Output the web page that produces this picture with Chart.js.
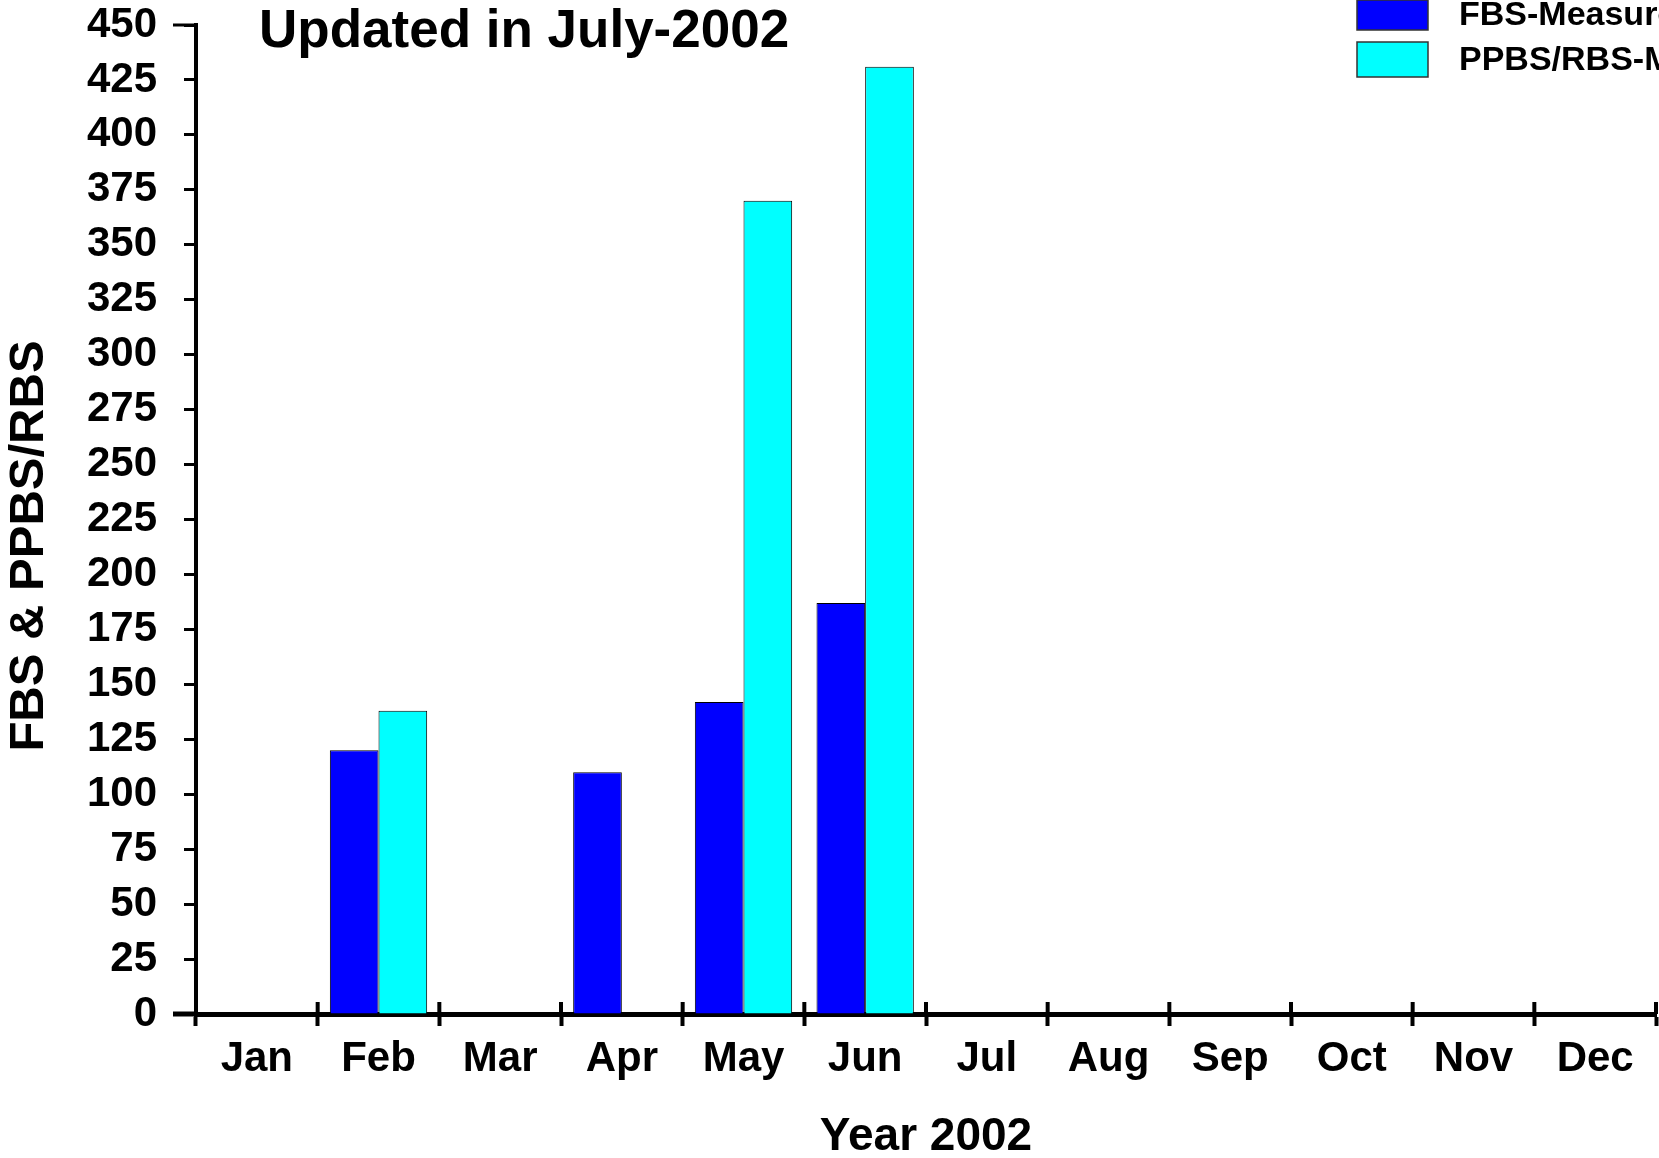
<!DOCTYPE html>
<html>
<head>
  <meta charset="utf-8">
  <title>FBS & PPBS/RBS 2002</title>
  <script src="https://cdn.jsdelivr.net/npm/chart.js@4.4.1/dist/chart.umd.min.js"></script>
  <style>
    html, body { margin: 0; padding: 0; background: #fff; }
    #wrap { width: 1659px; height: 1158px; position: relative; }
  </style>
</head>
<body>
  <div id="wrap"><canvas id="grafico"></canvas></div>

  <script>
    // data
    const months = ['Jan', 'Feb', 'Mar', 'Apr', 'May', 'Jun', 'Jul', 'Aug', 'Sep', 'Oct', 'Nov', 'Dec'];
    const fbsValues = [null, 120, null, 110, 142, 187, null, null, null, null, null, null];
    const ppbsValues = [null, 138, null, null, 370, 431, null, null, null, null, null, null];
    const yTicks = [0, 25, 50, 75, 100, 125, 150, 175, 200, 225, 250, 275, 300, 325, 350, 375, 400, 425, 450];
    const seriesNames = ['FBS-Measured', 'PPBS/RBS-Measured'];

    const FONT = '"Liberation Sans", Arial, sans-serif';

    // texts drawn over the plot: title, y title, legend, axis bits
    const extras = {
      id: 'extras',
      afterDraw(chart) {
        const { ctx, chartArea, scales: { y } } = chart;
        const n = months.length;
        const step = (chartArea.right - chartArea.left) / n;
        ctx.save();

        // x ticks cross the axis: upper half
        ctx.strokeStyle = '#000';
        ctx.lineWidth = 4;
        for (let i = 0; i <= n; i++) {
          const px = chartArea.left + i * step;
          ctx.beginPath();
          ctx.moveTo(px, chartArea.bottom - 12);
          ctx.lineTo(px, chartArea.bottom);
          ctx.stroke();
        }
        // x axis runs a bit left of the y axis
        ctx.lineWidth = 5;
        ctx.beginPath();
        ctx.moveTo(173, chartArea.bottom);
        ctx.lineTo(chartArea.left, chartArea.bottom);
        ctx.stroke();
        // longer top tick
        ctx.lineWidth = 3;
        const yTop = y.getPixelForValue(yTicks[yTicks.length - 1]);
        ctx.beginPath();
        ctx.moveTo(173, yTop);
        ctx.lineTo(chartArea.left, yTop);
        ctx.stroke();

        // title
        ctx.fillStyle = '#000';
        ctx.font = 'bold 53px ' + FONT;
        ctx.textAlign = 'left';
        ctx.textBaseline = 'middle';
        ctx.fillText('Updated in July-2002', 259, 32);

        // y axis title
        ctx.save();
        ctx.translate(29, 546);
        ctx.rotate(-Math.PI / 2);
        ctx.font = 'bold 49px ' + FONT;
        ctx.textAlign = 'center';
        ctx.fillText('FBS & PPBS/RBS', 0, 0);
        ctx.restore();

        // legend
        const colors = chart.data.datasets.map(d => d.backgroundColor);
        const boxes = [[0, 30], [42, 35]];
        ctx.font = 'bold 34px ' + FONT;
        ctx.textAlign = 'left';
        seriesNames.forEach((name, i) => {
          const [by, bh] = boxes[i];
          ctx.fillStyle = colors[i];
          ctx.fillRect(1357, by, 71, bh);
          ctx.strokeStyle = '#333';
          ctx.lineWidth = 1.5;
          ctx.strokeRect(1357, by, 71, bh);
          ctx.fillStyle = '#000';
          ctx.fillText(name, 1459, by + bh / 2 + 1);
        });

        ctx.restore();
      }
    };

    const ctx = document.getElementById('grafico');
    new Chart(ctx, {
      type: 'bar',
      data: {
        labels: months,
        datasets: [
          { label: seriesNames[0], data: fbsValues, backgroundColor: '#0000ff', borderColor: '#000', borderWidth: 1 },
          { label: seriesNames[1], data: ppbsValues, backgroundColor: '#00ffff', borderColor: '#000', borderWidth: 1 }
        ]
      },
      options: {
        responsive: true,
        maintainAspectRatio: false,
        animation: false,
        layout: { padding: { left: 0, right: 3, top: 25, bottom: 0 } },
        plugins: { legend: { display: false }, tooltip: { enabled: false } },
        datasets: { bar: { categoryPercentage: 0.8, barPercentage: 1.0 } },
        scales: {
          x: {
            grid: { display: true, offset: true, drawOnChartArea: false, tickLength: 12, tickWidth: 4, color: '#000' },
            border: { display: true, color: '#000', width: 5 },
            ticks: { color: '#000', padding: 8, font: { family: FONT, size: 42, weight: 'bold' } },
            title: { display: true, text: 'Year 2002', color: '#000', padding: { top: 0, bottom: -2 }, font: { family: FONT, size: 46, weight: 'bold', lineHeight: 1 } },
            afterFit(scale) { scale.height = 144; scale.paddingLeft = 0; scale.paddingRight = 0; }
          },
          y: {
            min: 0,
            max: 450,
            afterBuildTicks(scale) { scale.ticks = yTicks.map(v => ({ value: v })); },
            grid: { display: true, drawOnChartArea: false, tickLength: 12, tickWidth: 3, color: '#000' },
            border: { display: true, color: '#000', width: 4 },
            ticks: { color: '#000', padding: 27, font: { family: FONT, size: 42, weight: 'bold' } },
            afterFit(scale) { scale.width = 196; scale.paddingTop = 0; scale.paddingBottom = 0; }
          }
        }
      },
      plugins: [extras]
    });
  </script>
</body>
</html>
